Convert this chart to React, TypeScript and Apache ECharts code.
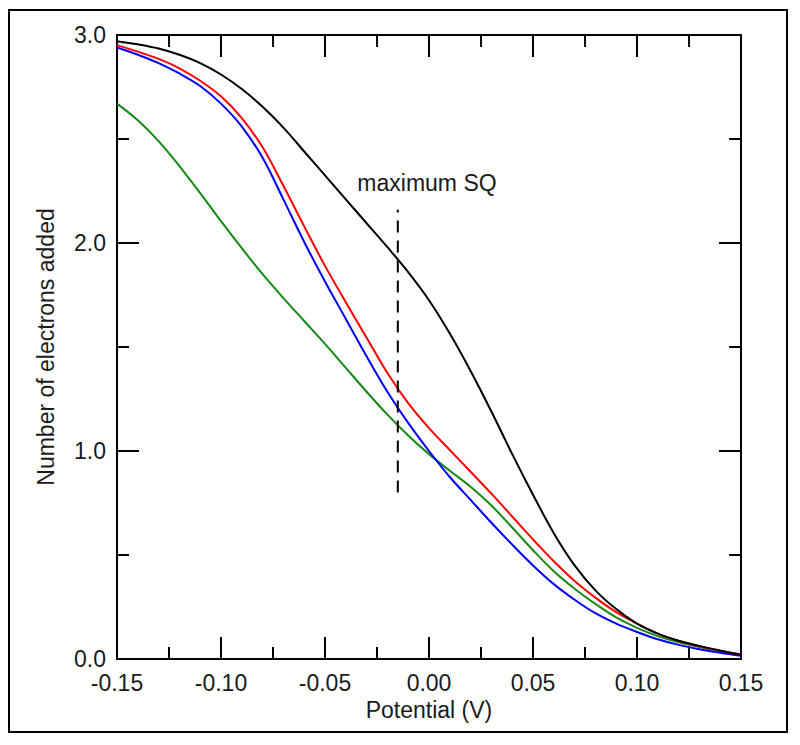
import React, { useEffect, useRef } from "react";
import * as echarts from "echarts";

// Potential grid (V)
const potential = [
  -0.15, -0.14, -0.13, -0.12, -0.11, -0.1, -0.09, -0.08, -0.07, -0.06, -0.05,
  -0.04, -0.03, -0.02, -0.01, 0.0, 0.01, 0.02, 0.03, 0.04, 0.05, 0.06, 0.07,
  0.08, 0.09, 0.1, 0.11, 0.12, 0.13, 0.14, 0.15,
];

const blackValues = [
  2.97, 2.955, 2.935, 2.905, 2.865, 2.81, 2.74, 2.655, 2.555, 2.44, 2.325,
  2.21, 2.095, 1.98, 1.86, 1.725, 1.565, 1.385, 1.19, 0.985, 0.79, 0.605, 0.45,
  0.33, 0.24, 0.17, 0.122, 0.088, 0.063, 0.04, 0.02,
];

const redValues = [
  2.95, 2.92, 2.885, 2.84, 2.78, 2.705, 2.6, 2.46, 2.275, 2.08, 1.89, 1.715,
  1.545, 1.375, 1.23, 1.11, 1.005, 0.9, 0.795, 0.685, 0.575, 0.47, 0.375, 0.295,
  0.225, 0.17, 0.122, 0.087, 0.06, 0.04, 0.022,
];

const blueValues = [
  2.94, 2.905, 2.865, 2.815, 2.755, 2.67, 2.56, 2.41, 2.21, 2.005, 1.815, 1.635,
  1.455, 1.285, 1.135, 1.0, 0.875, 0.765, 0.655, 0.55, 0.45, 0.36, 0.285, 0.22,
  0.17, 0.13, 0.095, 0.068, 0.047, 0.03, 0.015,
];

const greenValues = [
  2.67, 2.59, 2.49, 2.37, 2.24, 2.105, 1.975, 1.85, 1.735, 1.625, 1.515, 1.4,
  1.285, 1.175, 1.075, 0.985, 0.905, 0.828, 0.738, 0.632, 0.523, 0.422, 0.338,
  0.265, 0.2, 0.15, 0.11, 0.08, 0.058, 0.038, 0.02,
];

// "maximum SQ" marker line
const maxSQPotential = -0.015;
const maxSQRange = [0.8, 2.16];
const maxSQLabel = "maximum SQ";

const xTitle = "Potential (V)";
const yTitle = "Number of electrons added";

const FONT = "Liberation Sans, Arial, sans-serif";
const TEXT = "#1a1a1a";

const pairs = (ys: number[]) => potential.map((x, i) => [x, ys[i]]);

const axisLine = () => ({ show: true, onZero: false, lineStyle: { color: "#000", width: 2 } });
const axisTick = () => ({ show: true, inside: true, length: 22, lineStyle: { color: "#000", width: 2 } });
const minorTick = () => ({ show: true, splitNumber: 2, length: 12, lineStyle: { color: "#000", width: 2 } });

export default function App() {
  const ref = useRef<HTMLDivElement>(null);
  useEffect(() => {
    if (!ref.current) return;
    const chart = echarts.init(ref.current, undefined, { renderer: "svg" });
    const line = (name: string, ys: number[], color: string) => ({
      name,
      type: "line",
      data: pairs(ys),
      showSymbol: false,
      smooth: 0.35,
      lineStyle: { color, width: 2 },
      itemStyle: { color },
    });
    chart.setOption({
      animation: false,
      grid: { left: 117, top: 35, width: 624, height: 624 },
      xAxis: [
        {
          type: "value",
          min: -0.15,
          max: 0.15,
          interval: 0.05,
          position: "bottom",
          axisLine: axisLine(),
          axisTick: axisTick(),
          minorTick: minorTick(),
          splitLine: { show: false },
          axisLabel: {
            formatter: (v: number) => v.toFixed(2),
            fontSize: 23,
            fontFamily: FONT,
            color: TEXT,
            margin: 12,
          },
          name: xTitle,
          nameLocation: "middle",
          nameGap: 33,
          nameTextStyle: { fontSize: 23, fontFamily: FONT, color: TEXT },
        },
        {
          type: "value",
          min: -0.15,
          max: 0.15,
          interval: 0.05,
          position: "top",
          axisLine: axisLine(),
          axisTick: axisTick(),
          minorTick: minorTick(),
          splitLine: { show: false },
          axisLabel: { show: false },
        },
      ],
      yAxis: [
        {
          type: "value",
          min: 0,
          max: 3,
          interval: 1,
          position: "left",
          axisLine: axisLine(),
          axisTick: axisTick(),
          minorTick: minorTick(),
          splitLine: { show: false },
          axisLabel: {
            formatter: (v: number) => v.toFixed(1),
            fontSize: 23,
            fontFamily: FONT,
            color: TEXT,
            margin: 11,
          },
          name: yTitle,
          nameLocation: "middle",
          nameGap: 60,
          nameTextStyle: { fontSize: 23, fontFamily: FONT, color: TEXT },
        },
        {
          type: "value",
          min: 0,
          max: 3,
          interval: 1,
          position: "right",
          axisLine: axisLine(),
          axisTick: axisTick(),
          minorTick: minorTick(),
          splitLine: { show: false },
          axisLabel: { show: false },
        },
      ],
      series: [
        line("green", greenValues, "#138a13"),
        line("blue", blueValues, "#0000ff"),
        line("red", redValues, "#ff0000"),
        line("black", blackValues, "#000000"),
        {
          name: "maxSQ",
          type: "line",
          data: maxSQRange.map((y) => [maxSQPotential, y]),
          showSymbol: false,
          lineStyle: { color: "#000", width: 2, type: [12, 8] },
        },
      ],
      graphic: [
        {
          type: "text",
          x: 427,
          y: 183,
          style: {
            text: maxSQLabel,
            fontSize: 23,
            fontFamily: FONT,
            fill: TEXT,
            align: "center",
            verticalAlign: "middle",
          },
        },
      ],
    });
    return () => chart.dispose();
  }, []);
  return (
    <div style={{ position: "absolute", left: 0, top: 0, width: 800, height: 745, background: "#fff" }}>
      <div
        style={{
          position: "absolute",
          left: 8,
          top: 9,
          width: 780,
          height: 724,
          border: "2px solid #000",
          boxSizing: "border-box",
        }}
      />
      <div
        ref={ref}
        style={{ position: "absolute", left: 0, top: 0, width: 800, height: 745 }}
      />
    </div>
  );
}
